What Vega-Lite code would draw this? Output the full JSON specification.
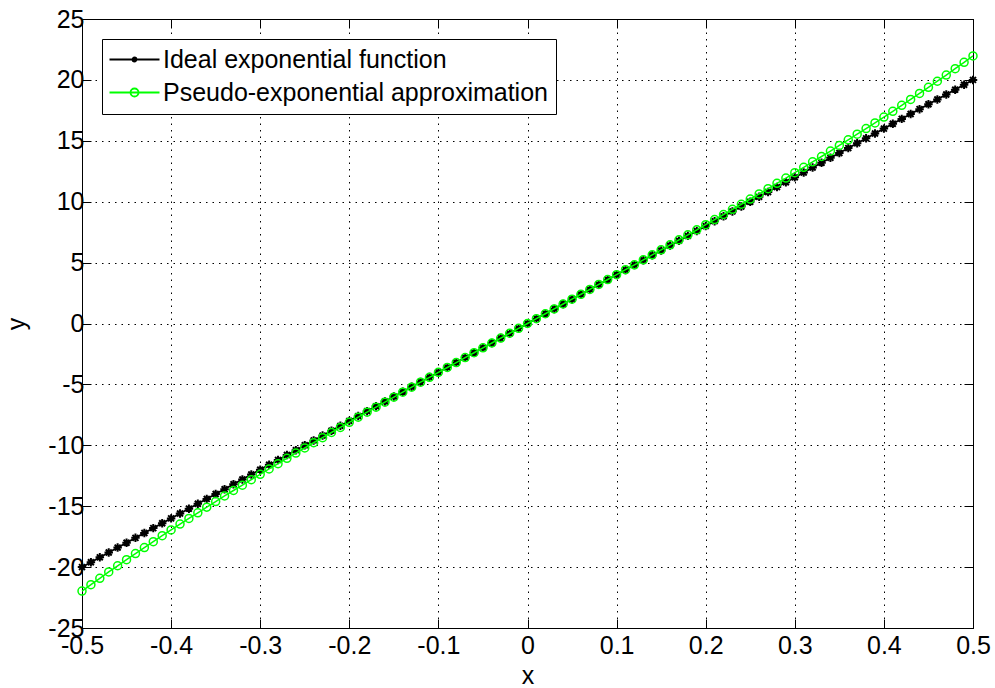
{
  "$schema": "https://vega.github.io/schema/vega-lite/v6.json",
  "width": 891,
  "height": 609,
  "autosize": "none",
  "padding": {"left": 82, "top": 19, "right": 22, "bottom": 60},
  "background": "white",
  "config": {
    "font": "Liberation Sans",
    "view": {"stroke": "black", "strokeWidth": 1},
    "axis": {
      "labelFont": "Liberation Sans",
      "labelFontSize": 25,
      "labelColor": "black",
      "titleFont": "Liberation Sans",
      "titleFontSize": 25,
      "titleFontWeight": "normal",
      "titleColor": "black",
      "domainColor": "black",
      "tickColor": "black",
      "labelFlush": false,
      "labelOverlap": false
    },
    "legend": {
      "title": null,
      "orient": "top-left",
      "offset": 20,
      "fillColor": "white",
      "strokeColor": "black",
      "padding": 8,
      "rowPadding": 7,
      "labelFont": "Liberation Sans",
      "labelFontSize": 25,
      "labelColor": "black",
      "labelLimit": 0,
      "symbolSize": 100,
      "symbolStrokeWidth": 1.8,
      "symbolOpacity": 1,
      "symbolFillColor": "transparent",
      "labelOffset": 28
    }
  },
  "data": {
    "values": [
      {"x": -0.50, "ideal": -20.0, "pseudo": -21.97},
      {"x": -0.49, "ideal": -19.6, "pseudo": -21.44},
      {"x": -0.48, "ideal": -19.2, "pseudo": -20.92},
      {"x": -0.47, "ideal": -18.8, "pseudo": -20.40},
      {"x": -0.46, "ideal": -18.4, "pseudo": -19.89},
      {"x": -0.45, "ideal": -18.0, "pseudo": -19.39},
      {"x": -0.44, "ideal": -17.6, "pseudo": -18.89},
      {"x": -0.43, "ideal": -17.2, "pseudo": -18.40},
      {"x": -0.42, "ideal": -16.8, "pseudo": -17.91},
      {"x": -0.41, "ideal": -16.4, "pseudo": -17.42},
      {"x": -0.40, "ideal": -16.0, "pseudo": -16.95},
      {"x": -0.39, "ideal": -15.6, "pseudo": -16.47},
      {"x": -0.38, "ideal": -15.2, "pseudo": -16.00},
      {"x": -0.37, "ideal": -14.8, "pseudo": -15.54},
      {"x": -0.36, "ideal": -14.4, "pseudo": -15.08},
      {"x": -0.35, "ideal": -14.0, "pseudo": -14.62},
      {"x": -0.34, "ideal": -13.6, "pseudo": -14.16},
      {"x": -0.33, "ideal": -13.2, "pseudo": -13.71},
      {"x": -0.32, "ideal": -12.8, "pseudo": -13.27},
      {"x": -0.31, "ideal": -12.4, "pseudo": -12.82},
      {"x": -0.30, "ideal": -12.0, "pseudo": -12.38},
      {"x": -0.29, "ideal": -11.6, "pseudo": -11.94},
      {"x": -0.28, "ideal": -11.2, "pseudo": -11.51},
      {"x": -0.27, "ideal": -10.8, "pseudo": -11.07},
      {"x": -0.26, "ideal": -10.4, "pseudo": -10.64},
      {"x": -0.25, "ideal": -10.0, "pseudo": -10.22},
      {"x": -0.24, "ideal": -9.6, "pseudo": -9.79},
      {"x": -0.23, "ideal": -9.2, "pseudo": -9.37},
      {"x": -0.22, "ideal": -8.8, "pseudo": -8.95},
      {"x": -0.21, "ideal": -8.4, "pseudo": -8.53},
      {"x": -0.20, "ideal": -8.0, "pseudo": -8.11},
      {"x": -0.19, "ideal": -7.6, "pseudo": -7.69},
      {"x": -0.18, "ideal": -7.2, "pseudo": -7.28},
      {"x": -0.17, "ideal": -6.8, "pseudo": -6.87},
      {"x": -0.16, "ideal": -6.4, "pseudo": -6.46},
      {"x": -0.15, "ideal": -6.0, "pseudo": -6.05},
      {"x": -0.14, "ideal": -5.6, "pseudo": -5.64},
      {"x": -0.13, "ideal": -5.2, "pseudo": -5.23},
      {"x": -0.12, "ideal": -4.8, "pseudo": -4.82},
      {"x": -0.11, "ideal": -4.4, "pseudo": -4.42},
      {"x": -0.10, "ideal": -4.0, "pseudo": -4.01},
      {"x": -0.09, "ideal": -3.6, "pseudo": -3.61},
      {"x": -0.08, "ideal": -3.2, "pseudo": -3.21},
      {"x": -0.07, "ideal": -2.8, "pseudo": -2.80},
      {"x": -0.06, "ideal": -2.4, "pseudo": -2.40},
      {"x": -0.05, "ideal": -2.0, "pseudo": -2.00},
      {"x": -0.04, "ideal": -1.6, "pseudo": -1.60},
      {"x": -0.03, "ideal": -1.2, "pseudo": -1.20},
      {"x": -0.02, "ideal": -0.8, "pseudo": -0.80},
      {"x": -0.01, "ideal": -0.4, "pseudo": -0.40},
      {"x": 0.00, "ideal": 0.0, "pseudo": 0.00},
      {"x": 0.01, "ideal": 0.4, "pseudo": 0.40},
      {"x": 0.02, "ideal": 0.8, "pseudo": 0.80},
      {"x": 0.03, "ideal": 1.2, "pseudo": 1.20},
      {"x": 0.04, "ideal": 1.6, "pseudo": 1.60},
      {"x": 0.05, "ideal": 2.0, "pseudo": 2.00},
      {"x": 0.06, "ideal": 2.4, "pseudo": 2.40},
      {"x": 0.07, "ideal": 2.8, "pseudo": 2.80},
      {"x": 0.08, "ideal": 3.2, "pseudo": 3.21},
      {"x": 0.09, "ideal": 3.6, "pseudo": 3.61},
      {"x": 0.10, "ideal": 4.0, "pseudo": 4.01},
      {"x": 0.11, "ideal": 4.4, "pseudo": 4.42},
      {"x": 0.12, "ideal": 4.8, "pseudo": 4.82},
      {"x": 0.13, "ideal": 5.2, "pseudo": 5.23},
      {"x": 0.14, "ideal": 5.6, "pseudo": 5.64},
      {"x": 0.15, "ideal": 6.0, "pseudo": 6.05},
      {"x": 0.16, "ideal": 6.4, "pseudo": 6.46},
      {"x": 0.17, "ideal": 6.8, "pseudo": 6.87},
      {"x": 0.18, "ideal": 7.2, "pseudo": 7.28},
      {"x": 0.19, "ideal": 7.6, "pseudo": 7.69},
      {"x": 0.20, "ideal": 8.0, "pseudo": 8.11},
      {"x": 0.21, "ideal": 8.4, "pseudo": 8.53},
      {"x": 0.22, "ideal": 8.8, "pseudo": 8.95},
      {"x": 0.23, "ideal": 9.2, "pseudo": 9.37},
      {"x": 0.24, "ideal": 9.6, "pseudo": 9.79},
      {"x": 0.25, "ideal": 10.0, "pseudo": 10.22},
      {"x": 0.26, "ideal": 10.4, "pseudo": 10.64},
      {"x": 0.27, "ideal": 10.8, "pseudo": 11.07},
      {"x": 0.28, "ideal": 11.2, "pseudo": 11.51},
      {"x": 0.29, "ideal": 11.6, "pseudo": 11.94},
      {"x": 0.30, "ideal": 12.0, "pseudo": 12.38},
      {"x": 0.31, "ideal": 12.4, "pseudo": 12.82},
      {"x": 0.32, "ideal": 12.8, "pseudo": 13.27},
      {"x": 0.33, "ideal": 13.2, "pseudo": 13.71},
      {"x": 0.34, "ideal": 13.6, "pseudo": 14.16},
      {"x": 0.35, "ideal": 14.0, "pseudo": 14.62},
      {"x": 0.36, "ideal": 14.4, "pseudo": 15.08},
      {"x": 0.37, "ideal": 14.8, "pseudo": 15.54},
      {"x": 0.38, "ideal": 15.2, "pseudo": 16.00},
      {"x": 0.39, "ideal": 15.6, "pseudo": 16.47},
      {"x": 0.40, "ideal": 16.0, "pseudo": 16.95},
      {"x": 0.41, "ideal": 16.4, "pseudo": 17.42},
      {"x": 0.42, "ideal": 16.8, "pseudo": 17.91},
      {"x": 0.43, "ideal": 17.2, "pseudo": 18.40},
      {"x": 0.44, "ideal": 17.6, "pseudo": 18.89},
      {"x": 0.45, "ideal": 18.0, "pseudo": 19.39},
      {"x": 0.46, "ideal": 18.4, "pseudo": 19.89},
      {"x": 0.47, "ideal": 18.8, "pseudo": 20.40},
      {"x": 0.48, "ideal": 19.2, "pseudo": 20.92},
      {"x": 0.49, "ideal": 19.6, "pseudo": 21.44},
      {"x": 0.50, "ideal": 20.0, "pseudo": 21.97}
    ]
  },
  "layer": [
    {
      "mark": {"type": "line", "strokeWidth": 1.8},
      "encoding": {
        "x": {
          "field": "x",
          "type": "quantitative",
          "scale": {"domain": [-0.5, 0.5], "nice": false, "zero": false},
          "axis": {
            "orient": "bottom",
            "values": [-0.5, -0.4, -0.3, -0.2, -0.1, 0, 0.1, 0.2, 0.3, 0.4, 0.5],
            "labelExpr": "'' + datum.value",
            "grid": true,
            "gridColor": "#000000",
            "gridDash": [1.5, 5],
            "gridWidth": 1,
            "tickSize": -9,
            "labelPadding": 14,
            "title": "x",
            "titlePadding": 5
          }
        },
        "y": {
          "field": "ideal",
          "type": "quantitative",
          "scale": {"domain": [-25, 25], "nice": false, "zero": false},
          "axis": {
            "orient": "left",
            "values": [-25, -20, -15, -10, -5, 0, 5, 10, 15, 20, 25],
            "labelExpr": "'' + datum.value",
            "grid": true,
            "gridColor": "#000000",
            "gridDash": [1.5, 5],
            "gridWidth": 1,
            "tickSize": -9,
            "labelPadding": 7,
            "title": "y",
            "titlePadding": 18
          }
        },
        "color": {
          "datum": "Ideal exponential function",
          "scale": {
            "domain": ["Ideal exponential function", "Pseudo-exponential approximation"],
            "range": ["#000000", "#00ff00"]
          },
          "legend": {
            "encode": {
              "symbols": {
                "update": {
                  "shape": {"signal": "datum.value === 'Ideal exponential function' ? 'M-2.6,0H7.4M2,0A0.4,0.4 0 1,1 2.8,0A0.4,0.4 0 1,1 2,0' : 'M-2.6,0H7.4M1.6,0A0.8,0.8 0 1,1 3.2,0A0.8,0.8 0 1,1 1.6,0'"},
                  "fill": {"value": "transparent"},
                  "opacity": {"value": 1}
                }
              }
            }
          }
        }
      }
    },
    {
      "mark": {
        "type": "point",
        "shape": "M-1,0H1M0,-1V1M-0.7,-0.7L0.7,0.7M-0.7,0.7L0.7,-0.7",
        "size": 72,
        "strokeWidth": 2,
        "filled": false,
        "opacity": 1
      },
      "encoding": {
        "x": {
          "field": "x",
          "type": "quantitative",
          "axis": {
            "orient": "top",
            "values": [-0.5, -0.4, -0.3, -0.2, -0.1, 0, 0.1, 0.2, 0.3, 0.4, 0.5],
            "labels": false,
            "grid": false,
            "domain": false,
            "tickSize": -9,
            "title": null
          }
        },
        "y": {
          "field": "ideal",
          "type": "quantitative",
          "axis": {
            "orient": "right",
            "values": [-25, -20, -15, -10, -5, 0, 5, 10, 15, 20, 25],
            "labels": false,
            "grid": false,
            "domain": false,
            "tickSize": -9,
            "title": null
          }
        },
        "color": {"datum": "Ideal exponential function"}
      }
    },
    {
      "mark": {"type": "line", "strokeWidth": 1.5},
      "encoding": {
        "x": {"field": "x", "type": "quantitative", "axis": null},
        "y": {"field": "pseudo", "type": "quantitative", "axis": null},
        "color": {"datum": "Pseudo-exponential approximation"}
      }
    },
    {
      "mark": {
        "type": "point",
        "shape": "circle",
        "size": 64,
        "strokeWidth": 1.5,
        "filled": false,
        "opacity": 1
      },
      "encoding": {
        "x": {"field": "x", "type": "quantitative", "axis": null},
        "y": {"field": "pseudo", "type": "quantitative", "axis": null},
        "color": {"datum": "Pseudo-exponential approximation"}
      }
    }
  ],
  "resolve": {"axis": {"x": "independent", "y": "independent"}}
}
